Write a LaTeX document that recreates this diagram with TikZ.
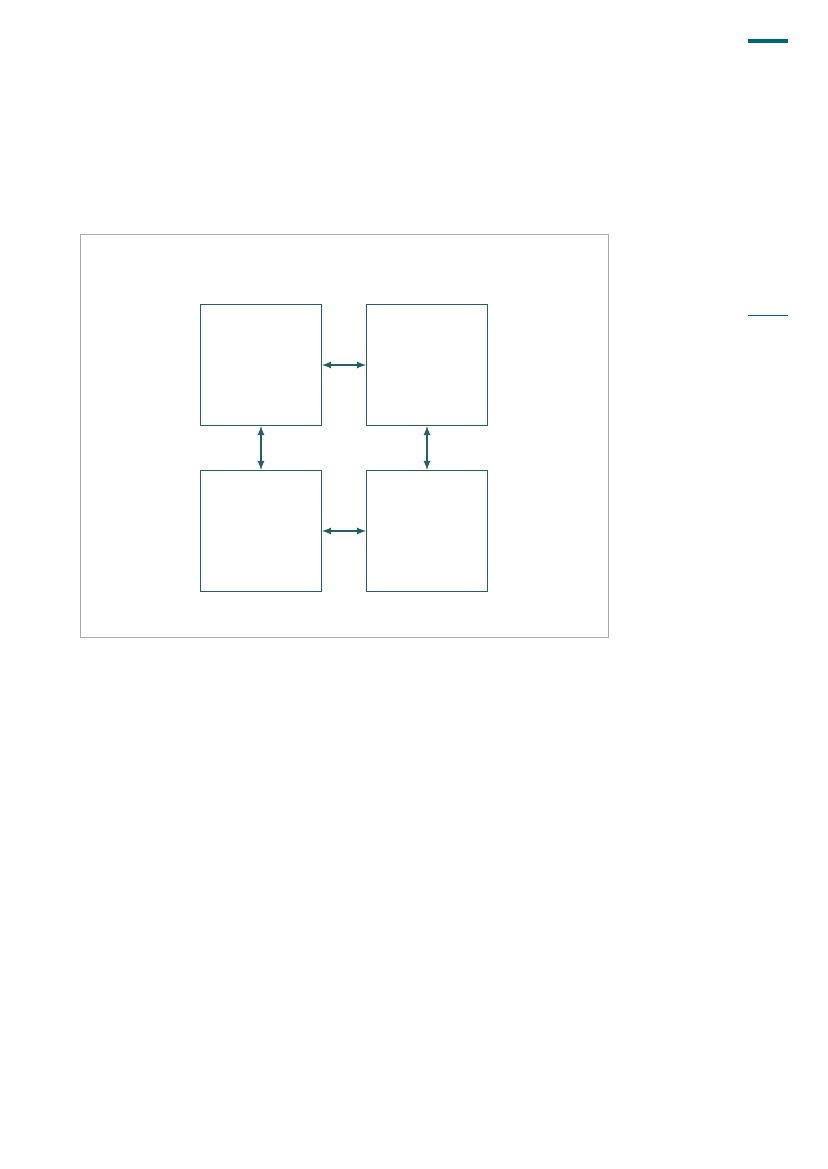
\documentclass[tikz,border=0pt]{standalone}
\usepackage{tikz}
\usetikzlibrary{positioning}
\usetikzlibrary{arrows}
\definecolor{boxteal}{RGB}{38,95,102}
\definecolor{barteal}{RGB}{0,104,115}
\definecolor{framegray}{RGB}{170,170,170}
\begin{document}
\begin{tikzpicture}[x=0.254mm, y=-0.254mm]
				\useasboundingbox (0,0) rectangle (827,1169);
				\draw[barteal, line width=3pt] (748,41) -- (788,41);
				\draw[barteal, line width=1.3pt] (748,315.5) -- (788,315.5);
				\draw[framegray, line width=0.6pt] (80.5,234.5) rectangle (608.5,637.5);
				
				\node[rectangle, draw=boxteal, line width=0.7pt, outer sep=0pt, minimum size=3.09cm] (A) at (261,365) {};
				\node[rectangle, draw=boxteal, line width=0.7pt, outer sep=0pt, minimum size=3.09cm] (B) at (427,365) {};
				\node[rectangle, draw=boxteal, line width=0.7pt, outer sep=0pt, minimum size=3.09cm] (C) at (261,531) {};
				\node[rectangle, draw=boxteal, line width=0.7pt, outer sep=0pt, minimum size=3.09cm] (D) at (427,531) {};
				
				\draw[boxteal, line width=1.3pt, latex-latex]  (A) -- (B);
				\draw[boxteal, line width=1.3pt, latex-latex]  (C) -- (D);
				\draw[boxteal, line width=1.3pt, latex-latex]  (A) -- (C);
				\draw[boxteal, line width=1.3pt, latex-latex]  (B) -- (D);
			\end{tikzpicture}
\end{document}
